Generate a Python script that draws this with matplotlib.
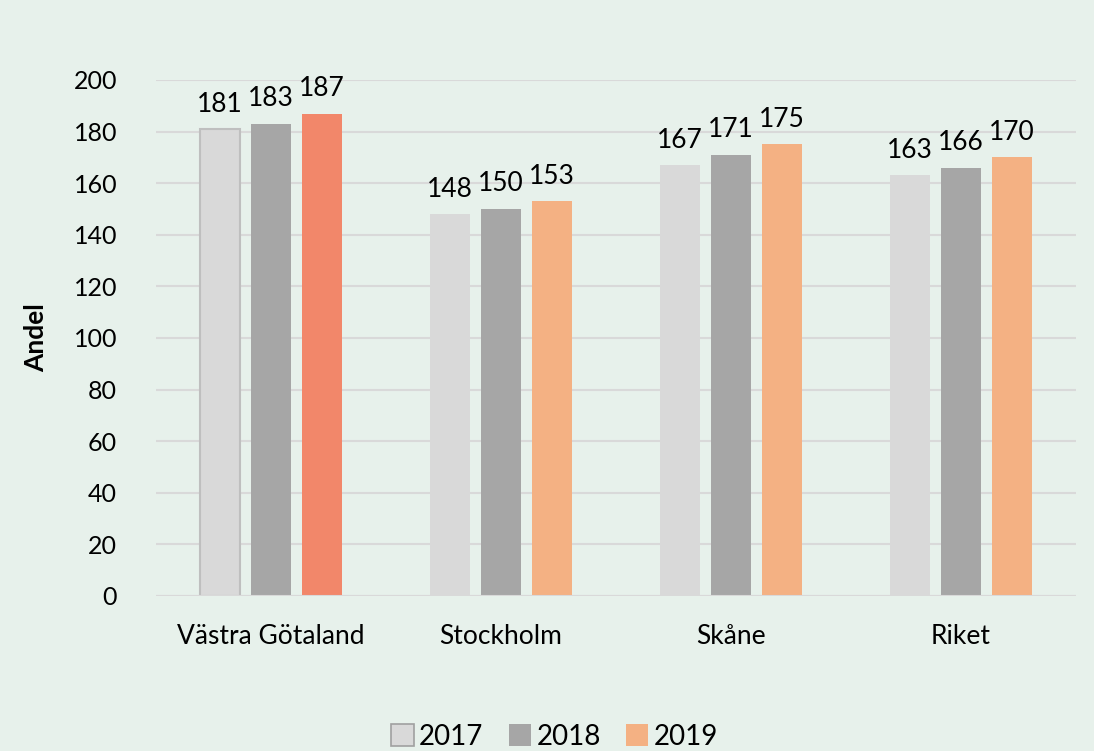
import matplotlib
matplotlib.use("Agg")
import matplotlib.pyplot as plt
import numpy as np
from matplotlib.patches import Patch

plt.rcParams['font.family'] = ['Lato', 'DejaVu Sans']

categories = ["Västra Götaland", "Stockholm", "Skåne", "Riket"]
years = ["2017", "2018", "2019"]
v2017 = [181, 148, 167, 163]
v2018 = [183, 150, 171, 166]
v2019 = [187, 153, 175, 170]
yticks = list(range(0, 201, 20))

bg = "#E7F1EB"
c2017 = "#D9D9D9"
c2018 = "#A6A6A6"
c2019 = "#F4B183"
c2019_hl = "#F2876A"

fig = plt.figure(figsize=(10.94, 7.51), dpi=100, facecolor=bg)
ax = fig.add_axes([0.1426, 0.2064, 0.8409, 0.6871], facecolor=bg)

x = np.arange(len(categories))
w = 0.174
off = 0.222
series = [v2017, v2018, v2019]
cols = [[c2017] * 4, [c2018] * 4, [c2019_hl] + [c2019] * 3]
for i, (vals, cl) in enumerate(zip(series, cols)):
    pos = x + (i - 1) * off
    bars = ax.bar(pos, vals, width=w, color=cl, zorder=3)
    if i == 0:
        bars[0].set_edgecolor("#BFBFBF")
        bars[0].set_linewidth(1.5)
    for p, v in zip(pos, vals):
        ax.annotate(str(v), (p, v), xytext=(0, 9), textcoords="offset points",
                    ha="center", va="bottom", fontsize=19)

ax.set_xlim(-0.5, 3.5)
ax.set_ylim(0, 200)
ax.set_yticks(yticks)
ax.set_xticks(x)
ax.set_xticklabels(categories, fontsize=19)
ax.tick_params(axis='y', labelsize=18, length=0, pad=28)
ax.tick_params(axis='x', length=0, pad=20)
ax.grid(axis='y', color="#D9D9D9", linewidth=1.5, zorder=0)
for s in ax.spines.values():
    s.set_visible(False)
ax.axhline(0, color="#D9D9D9", linewidth=1.5, zorder=4)
ax.set_ylabel("Andel", fontsize=19, fontweight="bold", labelpad=18)

handles = [Patch(facecolor=c2017, edgecolor="#A0A0A0", linewidth=1.2),
           Patch(facecolor=c2018), Patch(facecolor=c2019)]
fig.legend(handles, years, loc="center", bbox_to_anchor=(0.507, 0.019),
           ncol=3, frameon=False, fontsize=20, handlelength=0.8, handleheight=0.8,
           handletextpad=0.2, columnspacing=0.9)

fig.savefig("out.png", dpi=100, facecolor=bg)
